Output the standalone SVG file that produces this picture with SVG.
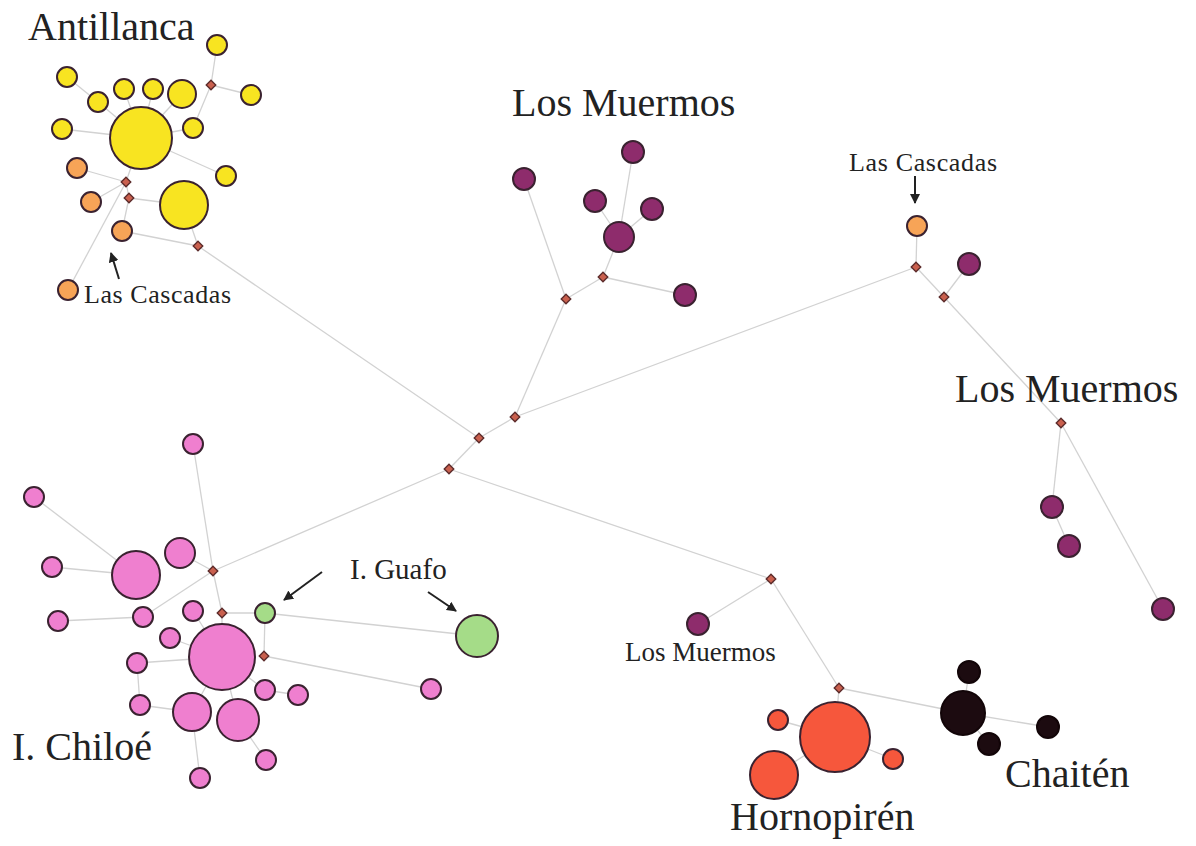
<svg xmlns="http://www.w3.org/2000/svg" width="1196" height="846" viewBox="0 0 1196 846">
<style>
.e{stroke:#d2d2d2;stroke-width:1.3;fill:none}
.n{stroke:#3a2230;stroke-width:2}
.y{fill:#f8e421}
.o{fill:#f7a457}
.p{fill:#8e2c6c}
.k{fill:#ef7fcf}
.g{fill:#a5dc88}
.r{fill:#f6573c}
.b{fill:#1c0b10;stroke:#120508}
.d{fill:#c9604e;stroke:#5a2a2a;stroke-width:1.3}
.t{font-family:"Liberation Serif","Times New Roman",serif;fill:#222}
.a{stroke:#222;stroke-width:2;fill:none;marker-end:url(#ah)}
</style>
<defs>
<marker id="ah" viewBox="0 0 10 10" refX="9" refY="5" markerWidth="5" markerHeight="5" orient="auto" markerUnits="strokeWidth">
<path d="M0,0 L10,5 L0,10 z" fill="#222"/>
</marker>
<path id="dm" d="M0,-4.8 L4.8,0 L0,4.8 L-4.8,0 z"/>
</defs>
<rect width="1196" height="846" fill="#ffffff"/>
<g id="connectors">
<line class="e" x1="566" y1="299" x2="515" y2="417"/>
<line class="e" x1="515" y1="417" x2="916" y2="267"/>
<line class="e" x1="515" y1="417" x2="479" y2="438"/>
<line class="e" x1="479" y1="438" x2="198" y2="246"/>
<line class="e" x1="479" y1="438" x2="449" y2="469"/>
<line class="e" x1="449" y1="469" x2="213" y2="571"/>
<line class="e" x1="449" y1="469" x2="771" y2="579"/>
<line class="e" x1="217" y1="45" x2="211" y2="85"/>
<line class="e" x1="211" y1="85" x2="251" y2="95"/>
<line class="e" x1="211" y1="85" x2="193" y2="128"/>
<line class="e" x1="193" y1="128" x2="141" y2="138"/>
<line class="e" x1="67" y1="77" x2="98" y2="102"/>
<line class="e" x1="98" y1="102" x2="141" y2="138"/>
<line class="e" x1="124" y1="89" x2="141" y2="138"/>
<line class="e" x1="153" y1="89" x2="141" y2="138"/>
<line class="e" x1="182" y1="94" x2="141" y2="138"/>
<line class="e" x1="62" y1="129" x2="141" y2="138"/>
<line class="e" x1="141" y1="138" x2="226" y2="176"/>
<line class="e" x1="141" y1="138" x2="126" y2="182"/>
<line class="e" x1="126" y1="182" x2="77" y2="168"/>
<line class="e" x1="126" y1="182" x2="68" y2="290"/>
<line class="e" x1="126" y1="182" x2="91" y2="202"/>
<line class="e" x1="126" y1="182" x2="129" y2="198"/>
<line class="e" x1="129" y1="198" x2="184" y2="205"/>
<line class="e" x1="129" y1="198" x2="122" y2="231"/>
<line class="e" x1="122" y1="231" x2="198" y2="246"/>
<line class="e" x1="184" y1="205" x2="198" y2="246"/>
<line class="e" x1="524" y1="179" x2="566" y2="299"/>
<line class="e" x1="566" y1="299" x2="603" y2="277"/>
<line class="e" x1="603" y1="277" x2="619" y2="237"/>
<line class="e" x1="603" y1="277" x2="685" y2="295"/>
<line class="e" x1="619" y1="237" x2="633" y2="152"/>
<line class="e" x1="619" y1="237" x2="595" y2="201"/>
<line class="e" x1="619" y1="237" x2="652" y2="209"/>
<line class="e" x1="916" y1="267" x2="917" y2="226"/>
<line class="e" x1="916" y1="267" x2="944" y2="297"/>
<line class="e" x1="944" y1="297" x2="969" y2="264"/>
<line class="e" x1="944" y1="297" x2="1061" y2="423"/>
<line class="e" x1="1061" y1="423" x2="1052" y2="507"/>
<line class="e" x1="1052" y1="507" x2="1069" y2="546"/>
<line class="e" x1="1061" y1="423" x2="1163" y2="609"/>
<line class="e" x1="193" y1="444" x2="213" y2="571"/>
<line class="e" x1="213" y1="571" x2="222" y2="613"/>
<line class="e" x1="213" y1="571" x2="180" y2="553"/>
<line class="e" x1="213" y1="571" x2="143" y2="617"/>
<line class="e" x1="143" y1="617" x2="58" y2="621"/>
<line class="e" x1="136" y1="575" x2="52" y2="567"/>
<line class="e" x1="136" y1="575" x2="34" y2="497"/>
<line class="e" x1="222" y1="613" x2="222" y2="657"/>
<line class="e" x1="222" y1="613" x2="265" y2="613"/>
<line class="e" x1="265" y1="613" x2="264" y2="656"/>
<line class="e" x1="265" y1="613" x2="477" y2="636"/>
<line class="e" x1="264" y1="656" x2="431" y2="689"/>
<line class="e" x1="222" y1="657" x2="170" y2="638"/>
<line class="e" x1="222" y1="657" x2="193" y2="611"/>
<line class="e" x1="222" y1="657" x2="137" y2="663"/>
<line class="e" x1="222" y1="657" x2="192" y2="712"/>
<line class="e" x1="222" y1="657" x2="238" y2="720"/>
<line class="e" x1="222" y1="657" x2="265" y2="690"/>
<line class="e" x1="265" y1="690" x2="298" y2="695"/>
<line class="e" x1="137" y1="663" x2="140" y2="705"/>
<line class="e" x1="140" y1="705" x2="192" y2="712"/>
<line class="e" x1="192" y1="712" x2="200" y2="778"/>
<line class="e" x1="238" y1="720" x2="266" y2="760"/>
<line class="e" x1="771" y1="579" x2="698" y2="624"/>
<line class="e" x1="771" y1="579" x2="839" y2="688"/>
<line class="e" x1="839" y1="688" x2="835" y2="736"/>
<line class="e" x1="839" y1="688" x2="963" y2="713"/>
<line class="e" x1="963" y1="713" x2="969" y2="672"/>
<line class="e" x1="963" y1="713" x2="989" y2="744"/>
<line class="e" x1="963" y1="713" x2="1048" y2="727"/>
<line class="e" x1="835" y1="736" x2="778" y2="720"/>
<line class="e" x1="835" y1="736" x2="893" y2="759"/>
<line class="e" x1="835" y1="736" x2="774" y2="775"/>
<line class="a" x1="119" y1="279" x2="111" y2="253"/>
<line class="a" x1="915" y1="176" x2="915" y2="203"/>
<line class="a" x1="322" y1="572" x2="284" y2="600"/>
<line class="a" x1="428" y1="592" x2="456" y2="611"/>
</g>
<g id="antillanca">
<circle class="n y" cx="217" cy="45" r="10"/>
<circle class="n y" cx="67" cy="77" r="10"/>
<circle class="n y" cx="98" cy="102" r="10"/>
<circle class="n y" cx="124" cy="89" r="10"/>
<circle class="n y" cx="153" cy="89" r="10"/>
<circle class="n y" cx="182" cy="94" r="14"/>
<circle class="n y" cx="251" cy="95" r="10"/>
<circle class="n y" cx="193" cy="128" r="10"/>
<circle class="n y" cx="62" cy="129" r="10"/>
<circle class="n y" cx="141" cy="138" r="31"/>
<circle class="n y" cx="226" cy="176" r="10"/>
<circle class="n y" cx="184" cy="205" r="24"/>
<circle class="n o" cx="77" cy="168" r="10"/>
<circle class="n o" cx="91" cy="202" r="10"/>
<circle class="n o" cx="122" cy="231" r="10"/>
<circle class="n o" cx="68" cy="290" r="10"/>
<use href="#dm" class="d" x="211" y="85"/>
<use href="#dm" class="d" x="126" y="182"/>
<use href="#dm" class="d" x="129" y="198"/>
<use href="#dm" class="d" x="198" y="246"/>
<text class="t" x="28" y="40" font-size="40">Antillanca</text>
<text class="t" x="84" y="303" font-size="26" textLength="147">Las Cascadas</text>
</g>
<g id="los-muermos-top">
<circle class="n p" cx="633" cy="152" r="11"/>
<circle class="n p" cx="524" cy="179" r="11"/>
<circle class="n p" cx="595" cy="201" r="11"/>
<circle class="n p" cx="652" cy="209" r="11"/>
<circle class="n p" cx="619" cy="237" r="15"/>
<circle class="n p" cx="685" cy="295" r="11"/>
<use href="#dm" class="d" x="603" y="277"/>
<use href="#dm" class="d" x="566" y="299"/>
<text class="t" x="512" y="116" font-size="40">Los Muermos</text>
</g>
<g id="center">
<use href="#dm" class="d" x="515" y="417"/>
<use href="#dm" class="d" x="479" y="438"/>
<use href="#dm" class="d" x="449" y="469"/>
</g>
<g id="las-cascadas-right">
<circle class="n o" cx="917" cy="226" r="10"/>
<circle class="n p" cx="969" cy="264" r="11"/>
<use href="#dm" class="d" x="916" y="267"/>
<use href="#dm" class="d" x="944" y="297"/>
<text class="t" x="849" y="171" font-size="26" textLength="148">Las Cascadas</text>
</g>
<g id="los-muermos-right">
<use href="#dm" class="d" x="1061" y="423"/>
<circle class="n p" cx="1052" cy="507" r="11"/>
<circle class="n p" cx="1069" cy="546" r="11"/>
<circle class="n p" cx="1163" cy="609" r="11"/>
<text class="t" x="955" y="402" font-size="40">Los Muermos</text>
</g>
<g id="chiloe">
<circle class="n k" cx="193" cy="444" r="10"/>
<circle class="n k" cx="34" cy="497" r="10"/>
<circle class="n k" cx="180" cy="553" r="15"/>
<circle class="n k" cx="136" cy="575" r="24"/>
<circle class="n k" cx="52" cy="567" r="10"/>
<circle class="n k" cx="58" cy="621" r="10"/>
<circle class="n k" cx="143" cy="617" r="10"/>
<circle class="n k" cx="193" cy="611" r="10"/>
<circle class="n k" cx="170" cy="638" r="10"/>
<circle class="n k" cx="222" cy="657" r="33"/>
<circle class="n k" cx="137" cy="663" r="10"/>
<circle class="n k" cx="265" cy="690" r="10"/>
<circle class="n k" cx="298" cy="695" r="10"/>
<circle class="n k" cx="140" cy="705" r="10"/>
<circle class="n k" cx="192" cy="712" r="19"/>
<circle class="n k" cx="238" cy="720" r="21"/>
<circle class="n k" cx="266" cy="760" r="10"/>
<circle class="n k" cx="200" cy="778" r="10"/>
<circle class="n k" cx="431" cy="689" r="10"/>
<use href="#dm" class="d" x="213" y="571"/>
<use href="#dm" class="d" x="222" y="613"/>
<use href="#dm" class="d" x="264" y="656"/>
<text class="t" x="12" y="760" font-size="40">I. Chiloé</text>
</g>
<g id="guafo">
<circle class="n g" cx="265" cy="613" r="10"/>
<circle class="n g" cx="477" cy="636" r="21"/>
<text class="t" x="350" y="579" font-size="29">I. Guafo</text>
</g>
<g id="los-muermos-small">
<use href="#dm" class="d" x="771" y="579"/>
<circle class="n p" cx="698" cy="624" r="11"/>
<text class="t" x="625" y="661" font-size="27">Los Muermos</text>
</g>
<g id="hornopiren">
<use href="#dm" class="d" x="839" y="688"/>
<circle class="n r" cx="778" cy="720" r="10"/>
<circle class="n r" cx="835" cy="737" r="35"/>
<circle class="n r" cx="893" cy="759" r="10"/>
<circle class="n r" cx="774" cy="775" r="24"/>
<text class="t" x="730" y="830" font-size="40">Hornopirén</text>
</g>
<g id="chaiten">
<circle class="n b" cx="969" cy="672" r="11"/>
<circle class="n b" cx="963" cy="713" r="22"/>
<circle class="n b" cx="989" cy="744" r="11"/>
<circle class="n b" cx="1048" cy="727" r="11"/>
<text class="t" x="1005" y="787" font-size="40">Chaitén</text>
</g>
</svg>
